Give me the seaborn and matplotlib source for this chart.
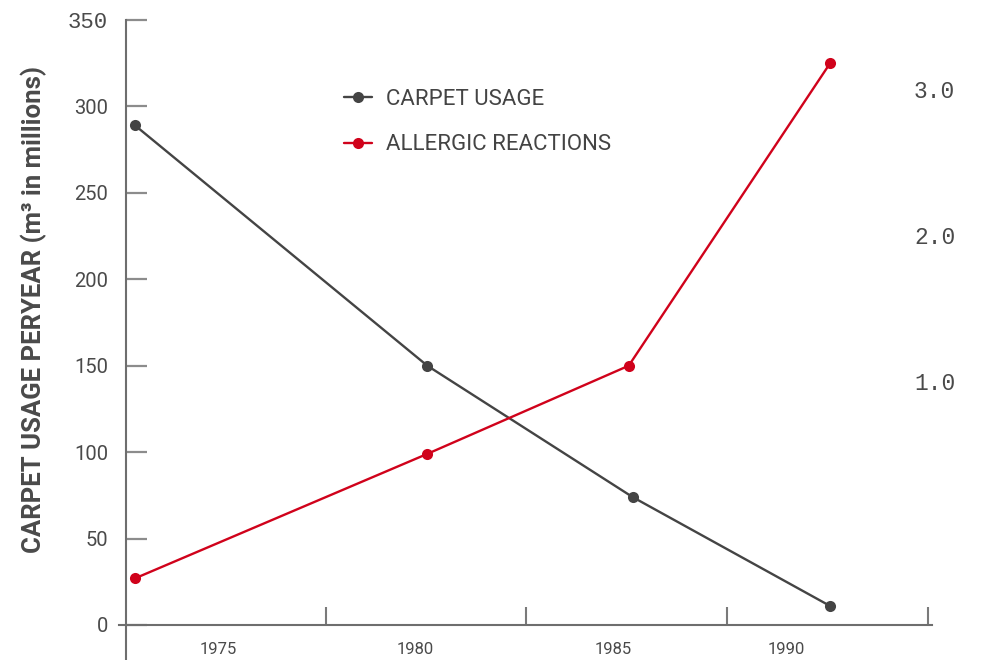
import pandas as pd
import seaborn as sns
from matplotlib import pyplot as plt

# values
years_carpet = [1972.9, 1980.3, 1985.5, 1990.5]
carpet_usage = [289, 150, 74, 11]
years_allergic = [1972.9, 1980.3, 1985.4, 1990.5]
allergic_reactions = [27, 99, 150, 325]

year_labels = ['1975', '1980', '1985', '1990']
right_labels = ['1.0', '2.0', '3.0']

series_names = ['CARPET USAGE', 'ALLERGIC REACTIONS']
series_colors = ['#444444', '#d0021b']

df = pd.concat([
    pd.DataFrame({'year': years_carpet, 'value': carpet_usage, 'series': series_names[0]}),
    pd.DataFrame({'year': years_allergic, 'value': allergic_reactions, 'series': series_names[1]}),
])

sns.set_style('white')
plt.rcParams['font.family'] = ['Roboto', 'DejaVu Sans']
plt.rcParams['ytick.left'] = True
plt.rcParams['xtick.bottom'] = True

fig = plt.figure(figsize=(9.82, 6.6), dpi=100)
ax = fig.add_axes([126 / 982, 35 / 660, 806 / 982, 605 / 660])

sns.lineplot(data=df, x='year', y='value', hue='series', palette=series_colors,
             marker='o', markersize=8, markeredgewidth=0, linewidth=1.7, ax=ax)

ax.set_xlim(1972.67, 1993.08)
ax.set_ylim(0, 350)

# spines
for s in ['top', 'right']:
    ax.spines[s].set_visible(False)
for s in ['left', 'bottom']:
    ax.spines[s].set_color('#6e6e6e')
    ax.spines[s].set_linewidth(1.5)
ax.spines['left'].set_bounds(-21, 350)
ax.spines['bottom'].set_bounds(1972.5, 1993.08)

# right side labels
ax2 = ax.twinx()
ax2.set_ylim(-0.671, 3.47)
ax2.set_yticks([1, 2, 3])
ax2.set_yticklabels(right_labels)
for s in ax2.spines.values():
    s.set_visible(False)
ax2.tick_params(axis='y', left=False, right=False, length=0, pad=-13, labelsize=16.5,
                labelcolor='#4a4a4a')
for t in ax2.get_yticklabels():
    t.set_family('Liberation Mono')
ax2.grid(False)

# y axis
ax.set_yticks(range(0, 351, 50))
ax.tick_params(axis='y', which='major', left=True, direction='in', length=15, width=1.6,
               color='#8c8c8c', pad=13, labelsize=14.5, labelcolor='#4a4a4a')
lbl = ax.get_yticklabels()
lbl[-1].set_family('Liberation Mono')
lbl[-1].set_fontsize(16)

ax.set_ylabel('CARPET USAGE PERYEAR (m³ in millions)', fontsize=18.5, fontweight='bold',
              color='#4a4a4a')
ax.yaxis.set_label_coords(-0.098, 0.521)

# x axis: tick marks between the year labels
ax.set_xticks([1977.73, 1982.8, 1987.89, 1992.97])
ax.set_xticklabels([])
ax.tick_params(axis='x', which='major', bottom=True, direction='in', length=13, width=1.5,
               color='#7a7a7a')
ax.set_xticks([1975, 1980, 1985, 1989.4], minor=True)
ax.set_xticklabels(year_labels, minor=True)
ax.tick_params(axis='x', which='minor', bottom=True, length=0, pad=12, labelsize=12,
               labelcolor='#4a4a4a')
ax.set_xlabel('')

leg = ax.legend(loc='upper left', bbox_to_anchor=(335 / 982, 1 - 80 / 660),
                bbox_transform=fig.transFigure, frameon=False, fontsize=16,
                handlelength=1.25, handletextpad=0.65, labelspacing=1.1, borderaxespad=0)
for t in leg.get_texts():
    t.set_color('#444444')

fig.savefig('out.png', dpi=100)
